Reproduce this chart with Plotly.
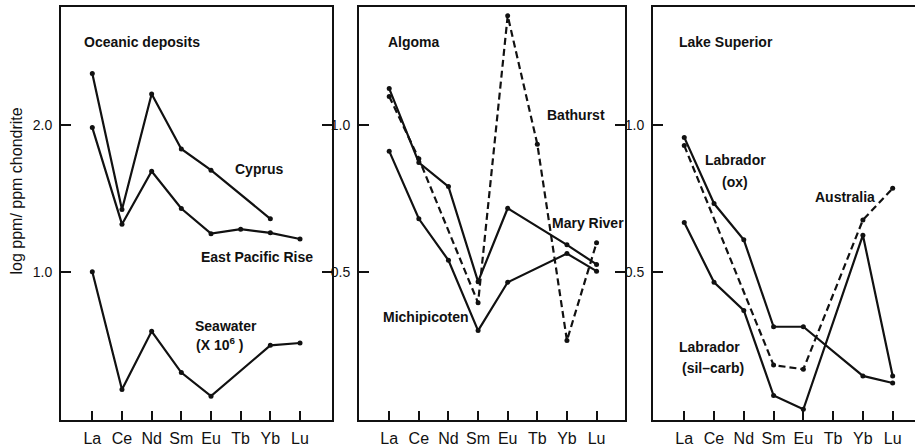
import plotly.graph_objects as go

elements = ["La", "Ce", "Nd", "Sm", "Eu", "Tb", "Yb", "Lu"]

# Panel 1: Oceanic deposits (log ppm / ppm chondrite)
cyprus = [2.354, 1.425, 2.215, 1.839, 1.694, None, 1.362, None]
east_pacific_rise = [1.985, 1.325, 1.687, 1.432, 1.260, 1.291, 1.266, 1.224]
seawater = [1.000, 0.195, 0.593, 0.311, 0.150, None, 0.497, 0.513]

# Panel 2: Algoma
bathurst = [1.099, 0.886, None, 0.394, 1.375, 0.936, 0.265, 0.599]
mary_river = [1.126, 0.873, 0.791, 0.466, 0.717, None, 0.592, 0.525]
michipicoten = [0.912, 0.681, 0.539, 0.299, 0.464, None, 0.562, 0.502]

# Panel 3: Lake Superior
labrador_ox = [0.959, 0.733, 0.609, 0.312, 0.312, None, 0.144, 0.120]
labrador_silcarb = [0.668, 0.464, 0.368, 0.077, 0.030, None, 0.625, 0.144]
australia = [0.931, None, None, 0.181, 0.167, None, 0.677, 0.785]

p1_ticks = [1.0, 2.0]
p23_ticks = [0.5, 1.0]

FONT = "Liberation Sans"
INK = "#111111"

fig = go.Figure()

series = [
    ("Cyprus", cyprus, "x", "y", "solid"),
    ("East Pacific Rise", east_pacific_rise, "x", "y", "solid"),
    ("Seawater", seawater, "x", "y", "solid"),
    ("Bathurst", bathurst, "x2", "y2", "7px,4px"),
    ("Mary River", mary_river, "x2", "y2", "solid"),
    ("Michipicoten", michipicoten, "x2", "y2", "solid"),
    ("Labrador (ox)", labrador_ox, "x3", "y3", "solid"),
    ("Labrador (sil-carb)", labrador_silcarb, "x3", "y3", "solid"),
    ("Australia", australia, "x3", "y3", "7px,4px"),
]
for name, vals, xa, ya, dash in series:
    fig.add_trace(go.Scatter(
        x=elements, y=vals, name=name, xaxis=xa, yaxis=ya,
        mode="lines+markers", connectgaps=True,
        line=dict(color=INK, width=2.2, dash=dash),
        marker=dict(color=INK, size=5),
        showlegend=False, hoverinfo="skip",
    ))

ydom = [1 - 428 / 447, 1 - 7 / 447]
xdoms = [[61 / 915, 332 / 915], [359 / 915, 625 / 915], [653 / 915, 1.0]]
xranges = [[-1.055, 8.078], [-1.02, 7.96], [-1.05, 7.75]]
yranges = [[-0.0154, 2.810], [-0.0077, 1.405], [-0.0077, 1.405]]
yticks = [p1_ticks, p23_ticks, p23_ticks]

layout = dict(
    width=915, height=447,
    margin=dict(l=0, r=0, t=0, b=0),
    paper_bgcolor="white", plot_bgcolor="white",
    font=dict(family=FONT, color=INK),
    showlegend=False,
)
for i in range(3):
    sfx = "" if i == 0 else str(i + 1)
    layout["xaxis" + sfx] = dict(
        domain=xdoms[i], anchor="y" + sfx, type="category",
        categoryorder="array", categoryarray=elements,
        range=xranges[i], showgrid=False, zeroline=False,
        showline=True, linecolor=INK, linewidth=2, mirror=True,
        ticks="inside", ticklen=9, tickwidth=2, tickcolor=INK,
        tickfont=dict(size=16, family=FONT, color=INK),
        ticklabelstandoff=2,
    )
    layout["yaxis" + sfx] = dict(
        domain=ydom, anchor="x" + sfx, range=yranges[i],
        tickvals=yticks[i], ticktext=["%.1f" % v for v in yticks[i]],
        showgrid=False, zeroline=False,
        showline=True, linecolor=INK, linewidth=2,
        mirror="ticks" if i < 2 else False,
        ticks="inside", ticklen=10, tickwidth=2, tickcolor=INK,
        tickfont=dict(size=14, family=FONT, color=INK),
        ticklabelstandoff=4,
    )
# right-side ticks of the third panel (its right border lies beyond the page)
layout["yaxis4"] = dict(
    overlaying="y3", side="right", anchor="x3", range=yranges[2],
    tickvals=p23_ticks, showticklabels=False, showgrid=False,
    zeroline=False, showline=False, ticks="inside", ticklen=3,
    tickwidth=2, tickcolor=INK,
)
fig.update_layout(**layout)

def label(text, x, y, xref, yref, xanchor="left"):
    fig.add_annotation(
        text="<b>%s</b>" % text, x=x, y=y, xref=xref, yref=yref,
        xanchor=xanchor, yanchor="middle", showarrow=False,
        font=dict(family=FONT, size=14, color=INK),
    )

label("Oceanic deposits", -0.34, 2.568, "x", "y")
label("Cyprus", 4.75, 1.703, "x", "y")
label("East Pacific Rise", 3.60, 1.099, "x", "y")
label("Seawater", 3.40, 0.629, "x", "y")
label("(X 10<sup>6</sup> )", 3.43, 0.508, "x", "y")

label("Algoma", -0.11, 1.284, "x2", "y2")
label("Bathurst", 5.26, 1.036, "x2", "y2")
label("Mary River", 5.43, 0.667, "x2", "y2")
label("Michipicoten", -0.28, 0.345, "x2", "y2")

label("Lake Superior", -0.25, 1.284, "x3", "y3")
label("Labrador", 1.73, 0.882, "x3", "y3", "center")
label("(ox)", 1.70, 0.808, "x3", "y3", "center")
label("Australia", 4.32, 0.757, "x3", "y3")
label("Labrador", -0.25, 0.244, "x3", "y3")
label("(sil–carb)", -0.15, 0.170, "x3", "y3")

fig.add_annotation(
    text="log ppm/ ppm chondrite", x=17 / 915, y=1 - 195 / 447,
    xref="paper", yref="paper", xanchor="center", yanchor="middle",
    textangle=-90, showarrow=False,
    font=dict(family=FONT, size=16, color=INK),
)

fig.write_html("out.html")
